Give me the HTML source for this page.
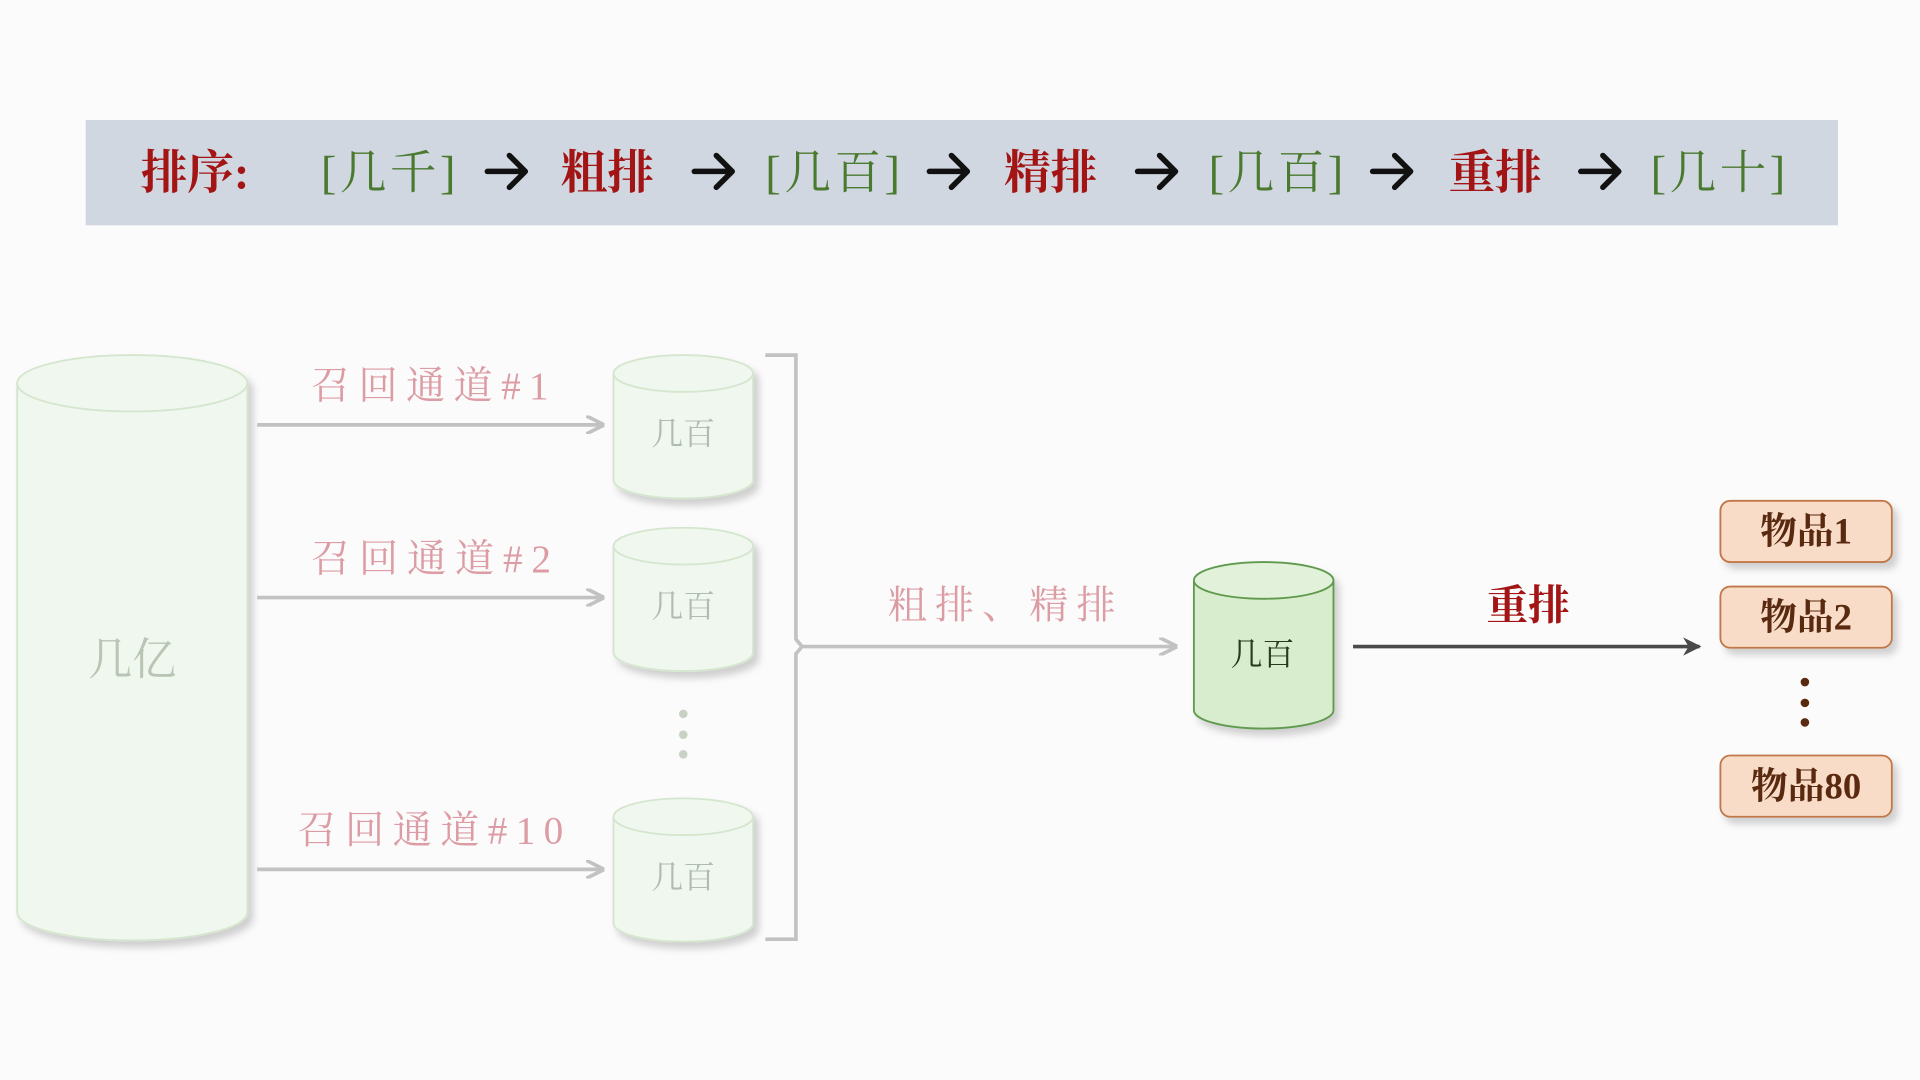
<!DOCTYPE html>
<html><head><meta charset="utf-8"><style>
html,body{margin:0;padding:0;background:#fcfbfc;width:1920px;height:1080px;overflow:hidden}
svg{display:block}
text{font-family:"Liberation Serif","Noto Serif CJK SC",serif}
</style></head><body>
<svg width="1920" height="1080" viewBox="0 0 1568 882" xmlns="http://www.w3.org/2000/svg">
<defs>
<marker id="ag" viewBox="0 0 10 10" refX="9" refY="5" markerWidth="5" markerHeight="5" orient="auto"><path d="M0,0 L10,5 L0,10" fill="none" stroke="#c2c2c2" stroke-width="2"/></marker>
<marker id="ad" viewBox="0 0 10 10" refX="9" refY="5" markerWidth="5" markerHeight="5" orient="auto"><path d="M0,0 L10,5 L0,10 L3,5 Z" fill="#4a4a4a"/></marker>
<filter id="sh" x="-20%" y="-20%" width="150%" height="150%"><feDropShadow dx="4" dy="5" stdDeviation="3" flood-color="#000" flood-opacity="0.18"/></filter>
<g id="barr"><path d="M0,0 H30 M18,-13 L31,0 L18,13" fill="none" stroke="#111" stroke-width="4.5" stroke-linecap="round" stroke-linejoin="round"/></g>
</defs>
<rect width="1568" height="882" fill="#fcfbfc"/>
<rect x="70" y="98" width="1431" height="86" fill="#d0d7e0"/>
<g font-size="38" font-weight="bold">
<text x="115" y="154" fill="#a31515">排序:</text>
<text x="262" y="154" fill="#4a7a30" font-weight="normal" textLength="110">[几千]</text>
<text x="458" y="154" fill="#a31515">粗排</text>
<text x="625" y="154" fill="#4a7a30" font-weight="normal" textLength="110">[几百]</text>
<text x="820" y="154" fill="#a31515">精排</text>
<text x="987" y="154" fill="#4a7a30" font-weight="normal" textLength="110">[几百]</text>
<text x="1183" y="154" fill="#a31515">重排</text>
<text x="1348" y="154" fill="#4a7a30" font-weight="normal" textLength="110">[几十]</text>
</g>
<use href="#barr" x="398" y="140"/>
<use href="#barr" x="567" y="140"/>
<use href="#barr" x="759" y="140"/>
<use href="#barr" x="929" y="140"/>
<use href="#barr" x="1121" y="140"/>
<use href="#barr" x="1291" y="140"/>
<!-- big cylinder -->
<g filter="url(#sh)">
<path d="M14,313 V745 A94,23 0 0 0 202,745 V313" fill="#f0f7ee" stroke="#d5e6cf" stroke-width="1.5"/>
<ellipse cx="108" cy="313" rx="94" ry="23" fill="#f0f7ee" stroke="#d5e6cf" stroke-width="1.5"/>
</g>
<text x="108" y="551" font-size="36" fill="#b8c4b4" text-anchor="middle">几亿</text>
<!-- small cylinders -->
<g filter="url(#sh)">
<path d="M501,305 V392 A57,15 0 0 0 615,392 V305" fill="#f0f7ee" stroke="#d5e6cf" stroke-width="1.5"/>
<ellipse cx="558" cy="305" rx="57" ry="15" fill="#f0f7ee" stroke="#d5e6cf" stroke-width="1.5"/>
</g>
<g filter="url(#sh)" transform="translate(0,141)">
<path d="M501,305 V392 A57,15 0 0 0 615,392 V305" fill="#f0f7ee" stroke="#d5e6cf" stroke-width="1.5"/>
<ellipse cx="558" cy="305" rx="57" ry="15" fill="#f0f7ee" stroke="#d5e6cf" stroke-width="1.5"/>
</g>
<g filter="url(#sh)" transform="translate(0,362)">
<path d="M501,305 V392 A57,15 0 0 0 615,392 V305" fill="#f0f7ee" stroke="#d5e6cf" stroke-width="1.5"/>
<ellipse cx="558" cy="305" rx="57" ry="15" fill="#f0f7ee" stroke="#d5e6cf" stroke-width="1.5"/>
</g>
<g font-size="26" fill="#b0bcb0" text-anchor="middle">
<text x="558" y="363">几百</text><text x="558" y="504">几百</text><text x="558" y="725">几百</text>
</g>
<g fill="#c8d2c4"><circle cx="558" cy="583" r="3.5"/><circle cx="558" cy="600" r="3.5"/><circle cx="558" cy="616" r="3.5"/></g>
<!-- arrows -->
<g stroke="#c2c2c2" stroke-width="3" fill="none">
<line x1="210" y1="347" x2="492" y2="347" marker-end="url(#ag)"/>
<line x1="210" y1="488" x2="492" y2="488" marker-end="url(#ag)"/>
<line x1="210" y1="710" x2="492" y2="710" marker-end="url(#ag)"/>
<path d="M625,290 H650 V522 L655,528 L650,534 V767 H625"/>
<line x1="655" y1="528" x2="960" y2="528" marker-end="url(#ag)"/>
</g>
<g font-size="32" fill="#dc9ca4" letter-spacing="4">
<text x="254" y="326" textLength="198">召回通道#1</text>
<text x="254" y="467" textLength="200">召回通道#2</text>
<text x="243" y="689" textLength="221">召回通道#10</text>
<text x="725" y="505" textLength="190">粗排、精排</text>
</g>
<!-- mid cylinder -->
<g filter="url(#sh)">
<path d="M975,474 V580 A57,15 0 0 0 1089,580 V474" fill="#d8ecce" stroke="#5e9a4e" stroke-width="1.5"/>
<ellipse cx="1032" cy="474" rx="57" ry="15" fill="#e2f1da" stroke="#5e9a4e" stroke-width="1.5"/>
</g>
<text x="1031" y="543" font-size="26" fill="#2a3a20" text-anchor="middle">几百</text>
<line x1="1105" y1="528" x2="1388" y2="528" stroke="#4a4a4a" stroke-width="3" marker-end="url(#ad)"/>
<text x="1248" y="506" font-size="34" font-weight="bold" fill="#a31515" text-anchor="middle">重排</text>
<!-- boxes -->
<g filter="url(#sh)" fill="#f9dcc8" stroke="#c07848" stroke-width="1.5">
<rect x="1405" y="409" width="140" height="50" rx="8"/>
<rect x="1405" y="479" width="140" height="50" rx="8"/>
<rect x="1405" y="617" width="140" height="50" rx="8"/>
</g>
<g font-size="30" font-weight="bold" fill="#5a2a10" text-anchor="middle">
<text x="1475" y="444">物品1</text><text x="1475" y="514">物品2</text><text x="1475" y="652">物品80</text>
</g>
<g fill="#5a2a10"><circle cx="1474" cy="557" r="3.5"/><circle cx="1474" cy="574" r="3.5"/><circle cx="1474" cy="590" r="3.5"/></g>
</svg>
</body></html>
